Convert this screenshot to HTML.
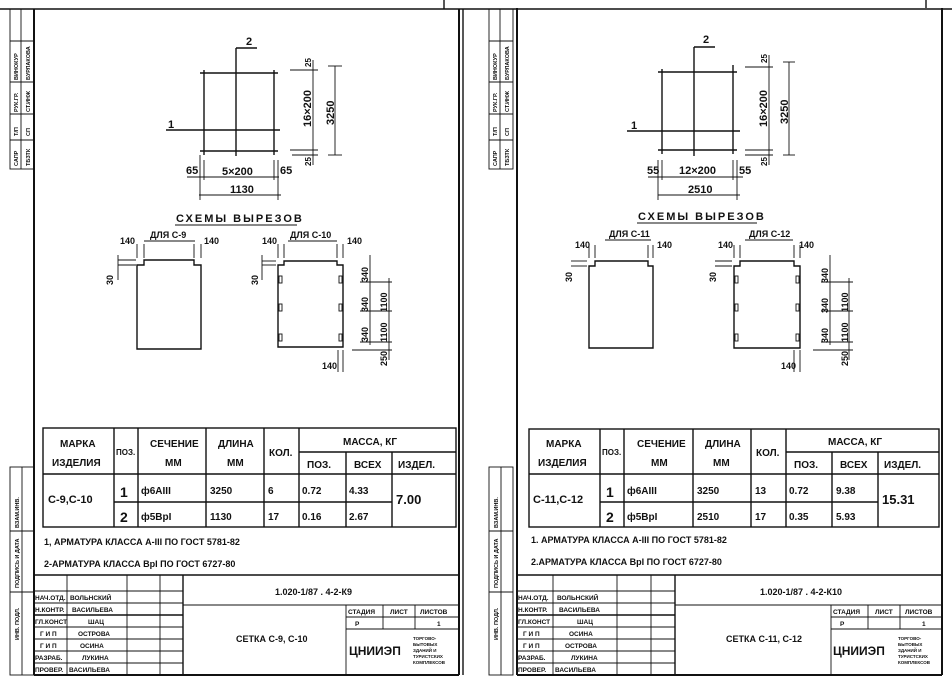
<!DOCTYPE html>
<html><head><meta charset="utf-8"><style>
html,body{margin:0;padding:0;background:#fff;}
svg{display:block}
text{font-family:"Liberation Sans",sans-serif;font-weight:bold;fill:#111}
.l{stroke:#111;stroke-width:1.4;fill:none}
.t{stroke:#111;stroke-width:0.9;fill:none}
.b{stroke:#111;stroke-width:2;fill:none}
</style></head><body>
<svg width="952" height="677" viewBox="0 0 952 677" xmlns="http://www.w3.org/2000/svg">
<rect width="952" height="677" fill="#fff"/>
<line x1="0" y1="9" x2="952" y2="9" class="l"/>
<line x1="444" y1="0" x2="444" y2="9" class="l"/>
<line x1="926" y1="0" x2="926" y2="8" class="l"/>

<defs>
<g id="strip">
  <rect x="10" y="9" width="24" height="160" class="t"/>
  <line x1="21" y1="9" x2="21" y2="169" class="t"/>
  <line x1="10" y1="41" x2="34" y2="41" class="t"/>
  <line x1="10" y1="82" x2="34" y2="82" class="t"/>
  <line x1="10" y1="114" x2="34" y2="114" class="t"/>
  <line x1="10" y1="140" x2="34" y2="140" class="t"/>
  <g font-size="5.5">
  <text transform="translate(18,80) rotate(-90)">ВИНОКУР</text>
  <text transform="translate(30,80) rotate(-90)">БУРЛАКОВА</text>
  <text transform="translate(18,112) rotate(-90)">РУК.ГР.</text>
  <text transform="translate(30,112) rotate(-90)">СТ.ИНЖ</text>
  <text transform="translate(18,136) rotate(-90)">Т/П</text>
  <text transform="translate(30,136) rotate(-90)">СП</text>
  <text transform="translate(18,166) rotate(-90)">САПР</text>
  <text transform="translate(30,166) rotate(-90)">ТБЗТК</text>
  </g>
  <rect x="10" y="467" width="24" height="208" class="t"/>
  <line x1="22" y1="467" x2="22" y2="675" class="t"/>
  <line x1="10" y1="531" x2="34" y2="531" class="t"/>
  <line x1="10" y1="592" x2="34" y2="592" class="t"/>
  <g font-size="5.5">
  <text transform="translate(19,528) rotate(-90)">ВЗАМ.ИНВ.</text>
  <text transform="translate(19,588) rotate(-90)">ПОДПИСЬ И ДАТА</text>
  <text transform="translate(19,640) rotate(-90)">ИНВ. ПОДЛ.</text>
  </g>
</g>
</defs>

<!-- LEFT SHEET -->
<use href="#strip"/>
<line x1="34" y1="9" x2="34" y2="675" class="b"/>
<line x1="459" y1="9" x2="459" y2="675" class="b"/>
<line x1="463" y1="9" x2="463" y2="675" class="l"/>
<line x1="34" y1="675" x2="459" y2="675" class="b"/>

<g class="l">
<line x1="200" y1="73" x2="278" y2="73"/>
<line x1="200" y1="151" x2="278" y2="151"/>
<line x1="204" y1="70" x2="204" y2="155"/>
<line x1="274" y1="70" x2="274" y2="155"/>
<line x1="236" y1="48" x2="236" y2="156"/>
<line x1="236" y1="48" x2="257" y2="48"/>
<line x1="166" y1="130" x2="280" y2="130"/>
</g>
<g class="t">
<line x1="290" y1="70" x2="318" y2="70"/>
<line x1="290" y1="150" x2="318" y2="150"/>
<line x1="292" y1="155" x2="318" y2="155"/>
<line x1="313" y1="60" x2="313" y2="165"/>
<line x1="335" y1="66" x2="335" y2="155"/>
<line x1="328" y1="66" x2="342" y2="66"/>
<line x1="328" y1="155" x2="342" y2="155"/>
<line x1="187" y1="177" x2="279" y2="177"/>
<line x1="199" y1="195" x2="281" y2="195"/>
<line x1="200" y1="155" x2="200" y2="200"/>
<line x1="204" y1="160" x2="204" y2="180"/>
<line x1="274" y1="160" x2="274" y2="180"/>
<line x1="278" y1="160" x2="278" y2="200"/>
</g>
<g font-size="11">
<text x="246" y="45">2</text>
<text x="168" y="128">1</text>
<text x="186" y="174">65</text>
<text x="222" y="175">5×200</text>
<text x="280" y="174">65</text>
<text x="230" y="193">1130</text>
<text transform="translate(311,127) rotate(-90)">16×200</text>
<text transform="translate(334,125) rotate(-90)">3250</text>
</g>
<g font-size="8"><text transform="translate(311,67) rotate(-90)">25</text><text transform="translate(311,166) rotate(-90)">25</text></g>
<text x="176" y="222" font-size="11" letter-spacing="2">СХЕМЫ  ВЫРЕЗОВ</text>
<line x1="175" y1="225" x2="297" y2="225" class="t"/>
<g font-size="9">
<text x="150" y="238">ДЛЯ С-9</text>
<text x="120" y="244">140</text>
<text x="204" y="244">140</text>
<text x="290" y="238">ДЛЯ С-10</text>
<text x="262" y="244">140</text>
<text x="347" y="244">140</text>
</g>
<line x1="144" y1="241" x2="195" y2="241" class="t"/>
<line x1="288" y1="241" x2="337" y2="241" class="t"/>
<g class="l">
<path d="M137 349 V265 H144 V260 H194 V265 H201 V349 Z"/>
<path d="M278 347 V265 H284 V261 H337 V265 H343 V347 Z"/>
</g>
<g class="t">
<rect x="279" y="276" width="3" height="7"/><rect x="279" y="304" width="3" height="7"/><rect x="279" y="334" width="3" height="7"/>
<rect x="339" y="276" width="3" height="7"/><rect x="339" y="304" width="3" height="7"/><rect x="339" y="334" width="3" height="7"/>
<line x1="137" y1="244" x2="137" y2="258"/><line x1="144" y1="244" x2="144" y2="258"/>
<line x1="194" y1="244" x2="194" y2="258"/><line x1="201" y1="244" x2="201" y2="258"/>
<line x1="278" y1="244" x2="278" y2="258"/><line x1="284" y1="244" x2="284" y2="258"/>
<line x1="337" y1="244" x2="337" y2="258"/><line x1="343" y1="244" x2="343" y2="258"/>
<line x1="118" y1="260" x2="136" y2="260"/><line x1="118" y1="265" x2="136" y2="265"/>
<line x1="118" y1="255" x2="118" y2="280"/>
<line x1="262" y1="261" x2="276" y2="261"/><line x1="262" y1="265" x2="276" y2="265"/>
<line x1="262" y1="255" x2="262" y2="280"/>
<line x1="370" y1="255" x2="370" y2="345"/>
<line x1="389" y1="278" x2="389" y2="360"/>
<line x1="360" y1="282" x2="392" y2="282"/>
<line x1="360" y1="311" x2="392" y2="311"/>
<line x1="360" y1="342" x2="392" y2="342"/>
<line x1="352" y1="350" x2="392" y2="350"/>
<line x1="338" y1="350" x2="338" y2="372"/><line x1="343" y1="350" x2="343" y2="372"/>
</g>
<g font-size="9">
<text transform="translate(113,285) rotate(-90)">30</text>
<text transform="translate(258,285) rotate(-90)">30</text>
<text transform="translate(368,282) rotate(-90)">340</text>
<text transform="translate(368,312) rotate(-90)">340</text>
<text transform="translate(368,342) rotate(-90)">340</text>
<text transform="translate(387,312) rotate(-90)">1100</text>
<text transform="translate(387,342) rotate(-90)">1100</text>
<text transform="translate(387,366) rotate(-90)">250</text>
<text x="322" y="369">140</text>
</g>

<g class="l">
<rect x="43" y="428" width="413" height="99"/>
<line x1="43" y1="474" x2="456" y2="474"/>
<line x1="299" y1="452" x2="456" y2="452"/>
<line x1="114" y1="502" x2="392" y2="502"/>
<line x1="114" y1="428" x2="114" y2="527"/>
<line x1="138" y1="428" x2="138" y2="527"/>
<line x1="206" y1="428" x2="206" y2="527"/>
<line x1="264" y1="428" x2="264" y2="527"/>
<line x1="299" y1="428" x2="299" y2="527"/>
<line x1="346" y1="452" x2="346" y2="527"/>
<line x1="392" y1="452" x2="392" y2="527"/>
</g>
<g font-size="10">
<text x="60" y="447">МАРКА</text><text x="52" y="466">ИЗДЕЛИЯ</text>
<text x="116" y="455" font-size="8">ПОЗ.</text>
<text x="150" y="447">СЕЧЕНИЕ</text><text x="165" y="466">ММ</text>
<text x="218" y="447">ДЛИНА</text><text x="227" y="466">ММ</text>
<text x="269" y="456">КОЛ.</text>
<text x="343" y="445">МАССА, КГ</text>
<text x="307" y="468">ПОЗ.</text><text x="354" y="468">ВСЕХ</text><text x="398" y="468">ИЗДЕЛ.</text>
<text x="48" y="503" font-size="11">С-9,С-10</text>
<text x="120" y="497" font-size="14" font-weight="normal">1</text>
<text x="120" y="522" font-size="14" font-weight="normal">2</text>
<text x="141" y="494">ф6АIII</text><text x="141" y="520">ф5ВрI</text>
<text x="210" y="494">3250</text><text x="210" y="520">1130</text>
<text x="268" y="494">6</text><text x="268" y="520">17</text>
<text x="302" y="494">0.72</text><text x="302" y="520">0.16</text>
<text x="349" y="494">4.33</text><text x="349" y="520">2.67</text>
<text x="396" y="504" font-size="13">7.00</text>
</g>
<g font-size="9">
<text x="44" y="545">1, АРМАТУРА КЛАССА А-III  ПО ГОСТ 5781-82</text>
<text x="44" y="567">2-АРМАТУРА КЛАССА ВрI  ПО ГОСТ 6727-80</text>
</g>
<g class="t">
<line x1="34" y1="575" x2="459" y2="575" stroke-width="1.4"/>
<line x1="183" y1="605" x2="459" y2="605"/>
<line x1="67" y1="575" x2="67" y2="675"/>
<line x1="127" y1="575" x2="127" y2="675"/>
<line x1="160" y1="575" x2="160" y2="675"/>
<line x1="183" y1="575" x2="183" y2="675" stroke-width="1.4"/>
<line x1="34" y1="591" x2="183" y2="591"/>
<line x1="34" y1="603" x2="183" y2="603"/>
<line x1="34" y1="615" x2="183" y2="615" stroke-width="1.4"/>
<line x1="34" y1="627" x2="183" y2="627"/>
<line x1="34" y1="639" x2="183" y2="639"/>
<line x1="34" y1="651" x2="183" y2="651"/>
<line x1="34" y1="663" x2="183" y2="663"/>
<line x1="346" y1="605" x2="346" y2="675"/>
<line x1="346" y1="617" x2="459" y2="617"/>
<line x1="346" y1="629" x2="459" y2="629"/>
<line x1="383" y1="605" x2="383" y2="629"/>
<line x1="415" y1="605" x2="415" y2="629"/>
</g>
<g font-size="6.5" font-weight="normal">
<text x="35" y="600">НАЧ.ОТД.</text><text x="70" y="600">ВОЛЬНСКИЙ</text>
<text x="35" y="612">Н.КОНТР.</text><text x="72" y="612">ВАСИЛЬЕВА</text>
<text x="35" y="624">ГЛ.КОНСТ</text><text x="88" y="624">ШАЦ</text>
<text x="40" y="636">Г И П</text><text x="78" y="636">ОСТРОВА</text>
<text x="40" y="648">Г И П</text><text x="80" y="648">ОСИНА</text>
<text x="35" y="660">РАЗРАБ.</text><text x="82" y="660">ЛУКИНА</text>
<text x="35" y="672">ПРОВЕР.</text><text x="69" y="672">ВАСИЛЬЕВА</text>
<text x="348" y="614">СТАДИЯ</text><text x="390" y="614">ЛИСТ</text><text x="420" y="614">ЛИСТОВ</text>
<text x="355" y="626">Р</text><text x="437" y="626">1</text>
<text x="413" y="640" font-size="4.5">ТОРГОВО-</text><text x="413" y="646" font-size="4.5">БЫТОВЫХ</text><text x="413" y="652" font-size="4.5">ЗДАНИЙ И</text><text x="413" y="658" font-size="4.5">ТУРИСТСКИХ</text><text x="413" y="664" font-size="4.5">КОМПЛЕКСОВ</text>
</g>
<text x="275" y="595" font-size="9">1.020-1/87 . 4-2-К9</text>
<text x="236" y="642" font-size="9">СЕТКА С-9, С-10</text>
<text x="349" y="655" font-size="12" font-weight="normal">ЦНИИЭП</text>

<!-- RIGHT SHEET -->
<use href="#strip" transform="translate(479,0)"/>
<g transform="translate(483,0)">
<line x1="34" y1="8" x2="34" y2="675" class="b"/>
<line x1="459" y1="8" x2="459" y2="675" class="b"/>
<line x1="34" y1="675" x2="459" y2="675" class="b"/>
<g class="l">
<line x1="175" y1="72" x2="254" y2="72"/>
<line x1="175" y1="150" x2="254" y2="150"/>
<line x1="179" y1="69" x2="179" y2="154"/>
<line x1="250" y1="65" x2="250" y2="154"/>
<line x1="211" y1="47" x2="211" y2="156"/>
<line x1="211" y1="47" x2="232" y2="47"/>
<line x1="144" y1="131" x2="257" y2="131"/>
</g>
<g class="t">
<line x1="262" y1="67" x2="290" y2="67"/>
<line x1="262" y1="150" x2="290" y2="150"/>
<line x1="262" y1="155" x2="290" y2="155"/>
<line x1="286" y1="55" x2="286" y2="165"/>
<line x1="306" y1="62" x2="306" y2="155"/>
<line x1="300" y1="62" x2="312" y2="62"/>
<line x1="300" y1="155" x2="312" y2="155"/>
<line x1="165" y1="177" x2="260" y2="177"/>
<line x1="175" y1="195" x2="257" y2="195"/>
<line x1="175" y1="160" x2="175" y2="200"/>
<line x1="179" y1="160" x2="179" y2="180"/>
<line x1="250" y1="160" x2="250" y2="180"/>
<line x1="254" y1="160" x2="254" y2="200"/>
</g>
<g font-size="11">
<text x="220" y="43">2</text>
<text x="148" y="129">1</text>
<text x="164" y="174">55</text>
<text x="196" y="174">12×200</text>
<text x="256" y="174">55</text>
<text x="205" y="193">2510</text>
<text transform="translate(284,127) rotate(-90)">16×200</text>
<text transform="translate(305,124) rotate(-90)">3250</text>
</g>
<g font-size="8"><text transform="translate(284,63) rotate(-90)">25</text><text transform="translate(284,166) rotate(-90)">25</text></g>
<text x="155" y="220" font-size="11" letter-spacing="2">СХЕМЫ  ВЫРЕЗОВ</text>
<line x1="154" y1="223" x2="274" y2="223" class="t"/>
<g font-size="9">
<text x="126" y="237">ДЛЯ С-11</text>
<text x="92" y="248">140</text><text x="174" y="248">140</text>
<text x="266" y="237">ДЛЯ С-12</text>
<text x="235" y="248">140</text><text x="316" y="248">140</text>
<text transform="translate(89,282) rotate(-90)">30</text>
<text transform="translate(233,282) rotate(-90)">30</text>
<text transform="translate(345,283) rotate(-90)">340</text>
<text transform="translate(345,313) rotate(-90)">340</text>
<text transform="translate(345,343) rotate(-90)">340</text>
<text transform="translate(365,312) rotate(-90)">1100</text>
<text transform="translate(365,342) rotate(-90)">1100</text>
<text transform="translate(365,366) rotate(-90)">250</text>
<text x="298" y="369">140</text>
</g>
<line x1="122" y1="240" x2="168" y2="240" class="t"/>
<line x1="262" y1="240" x2="310" y2="240" class="t"/>
<g class="l">
<path d="M106 348 V266 H112 V261 H165 V266 H170 V348 Z"/>
<path d="M251 348 V266 H257 V261 H311 V266 H317 V348 Z"/>
</g>
<g class="t">
<rect x="252" y="276" width="3" height="7"/><rect x="252" y="304" width="3" height="7"/><rect x="252" y="334" width="3" height="7"/>
<rect x="313" y="276" width="3" height="7"/><rect x="313" y="304" width="3" height="7"/><rect x="313" y="334" width="3" height="7"/>
<line x1="106" y1="245" x2="106" y2="258"/><line x1="112" y1="245" x2="112" y2="258"/>
<line x1="165" y1="245" x2="165" y2="258"/><line x1="170" y1="245" x2="170" y2="258"/>
<line x1="251" y1="245" x2="251" y2="258"/><line x1="257" y1="245" x2="257" y2="258"/>
<line x1="311" y1="245" x2="311" y2="258"/><line x1="317" y1="245" x2="317" y2="258"/>
<line x1="88" y1="261" x2="104" y2="261"/><line x1="88" y1="266" x2="104" y2="266"/>
<line x1="232" y1="261" x2="249" y2="261"/><line x1="232" y1="266" x2="249" y2="266"/>
<line x1="347" y1="255" x2="347" y2="345"/>
<line x1="366" y1="278" x2="366" y2="360"/>
<line x1="338" y1="282" x2="370" y2="282"/>
<line x1="338" y1="311" x2="370" y2="311"/>
<line x1="338" y1="342" x2="370" y2="342"/>
<line x1="330" y1="350" x2="370" y2="350"/>
<line x1="311" y1="350" x2="311" y2="372"/><line x1="317" y1="350" x2="317" y2="372"/>
</g>
<g class="l">
<rect x="46" y="429" width="410" height="98"/>
<line x1="46" y1="474" x2="456" y2="474"/>
<line x1="303" y1="452" x2="456" y2="452"/>
<line x1="117" y1="502" x2="395" y2="502"/>
<line x1="117" y1="429" x2="117" y2="527"/>
<line x1="141" y1="429" x2="141" y2="527"/>
<line x1="210" y1="429" x2="210" y2="527"/>
<line x1="268" y1="429" x2="268" y2="527"/>
<line x1="303" y1="429" x2="303" y2="527"/>
<line x1="349" y1="452" x2="349" y2="527"/>
<line x1="395" y1="452" x2="395" y2="527"/>
</g>
<g font-size="10">
<text x="63" y="447">МАРКА</text><text x="55" y="466">ИЗДЕЛИЯ</text>
<text x="119" y="455" font-size="8">ПОЗ.</text>
<text x="154" y="447">СЕЧЕНИЕ</text><text x="168" y="466">ММ</text>
<text x="222" y="447">ДЛИНА</text><text x="230" y="466">ММ</text>
<text x="273" y="456">КОЛ.</text>
<text x="345" y="445">МАССА, КГ</text>
<text x="311" y="468">ПОЗ.</text><text x="357" y="468">ВСЕХ</text><text x="401" y="468">ИЗДЕЛ.</text>
<text x="50" y="503" font-size="11">С-11,С-12</text>
<text x="123" y="497" font-size="14" font-weight="normal">1</text>
<text x="123" y="522" font-size="14" font-weight="normal">2</text>
<text x="144" y="494">ф6АIII</text><text x="144" y="520">ф5ВрI</text>
<text x="214" y="494">3250</text><text x="214" y="520">2510</text>
<text x="272" y="494">13</text><text x="272" y="520">17</text>
<text x="306" y="494">0.72</text><text x="306" y="520">0.35</text>
<text x="353" y="494">9.38</text><text x="353" y="520">5.93</text>
<text x="399" y="504" font-size="13">15.31</text>
</g>
<g font-size="9">
<text x="48" y="543">1. АРМАТУРА КЛАССА А-III  ПО ГОСТ 5781-82</text>
<text x="48" y="565">2.АРМАТУРА КЛАССА ВрI  ПО ГОСТ 6727-80</text>
</g>
<g class="t">
<line x1="34" y1="575" x2="459" y2="575" stroke-width="1.4"/>
<line x1="192" y1="605" x2="459" y2="605"/>
<line x1="70" y1="575" x2="70" y2="675"/>
<line x1="134" y1="575" x2="134" y2="675"/>
<line x1="168" y1="575" x2="168" y2="675"/>
<line x1="192" y1="575" x2="192" y2="675" stroke-width="1.4"/>
<line x1="34" y1="591" x2="192" y2="591"/>
<line x1="34" y1="603" x2="192" y2="603"/>
<line x1="34" y1="615" x2="192" y2="615" stroke-width="1.4"/>
<line x1="34" y1="627" x2="192" y2="627"/>
<line x1="34" y1="639" x2="192" y2="639"/>
<line x1="34" y1="651" x2="192" y2="651"/>
<line x1="34" y1="663" x2="192" y2="663"/>
<line x1="348" y1="605" x2="348" y2="675"/>
<line x1="348" y1="617" x2="459" y2="617"/>
<line x1="348" y1="629" x2="459" y2="629"/>
<line x1="385" y1="605" x2="385" y2="629"/>
<line x1="417" y1="605" x2="417" y2="629"/>
</g>
<g font-size="6.5" font-weight="normal">
<text x="35" y="600">НАЧ.ОТД.</text><text x="74" y="600">ВОЛЬНСКИЙ</text>
<text x="35" y="612">Н.КОНТР.</text><text x="76" y="612">ВАСИЛЬЕВА</text>
<text x="35" y="624">ГЛ.КОНСТ</text><text x="94" y="624">ШАЦ</text>
<text x="40" y="636">Г И П</text><text x="86" y="636">ОСИНА</text>
<text x="40" y="648">Г И П</text><text x="82" y="648">ОСТРОВА</text>
<text x="35" y="660">РАЗРАБ.</text><text x="88" y="660">ЛУКИНА</text>
<text x="35" y="672">ПРОВЕР.</text><text x="72" y="672">ВАСИЛЬЕВА</text>
<text x="350" y="614">СТАДИЯ</text><text x="392" y="614">ЛИСТ</text><text x="422" y="614">ЛИСТОВ</text>
<text x="357" y="626">Р</text><text x="439" y="626">1</text>
<text x="415" y="640" font-size="4.5">ТОРГОВО-</text><text x="415" y="646" font-size="4.5">БЫТОВЫХ</text><text x="415" y="652" font-size="4.5">ЗДАНИЙ И</text><text x="415" y="658" font-size="4.5">ТУРИСТСКИХ</text><text x="415" y="664" font-size="4.5">КОМПЛЕКСОВ</text>
</g>
<text x="277" y="595" font-size="9">1.020-1/87 . 4-2-К10</text>
<text x="243" y="642" font-size="9">СЕТКА С-11, С-12</text>
<text x="350" y="655" font-size="12" font-weight="normal">ЦНИИЭП</text>
</g>
</svg>
</body></html>
